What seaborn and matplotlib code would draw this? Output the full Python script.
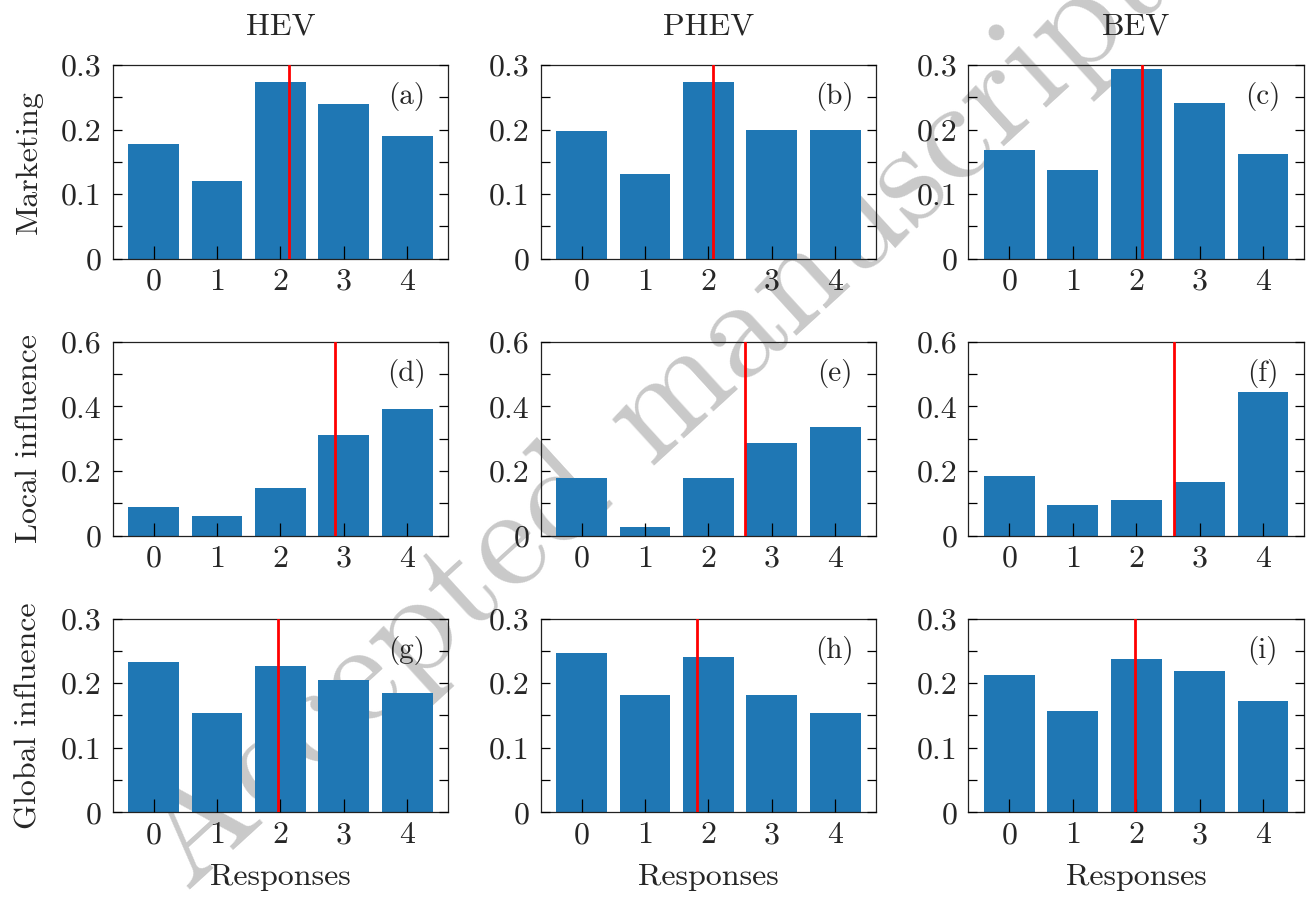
import numpy as np
import pandas as pd
import seaborn as sns
import matplotlib
matplotlib.use('Agg')
import matplotlib.pyplot as plt
from matplotlib.ticker import MultipleLocator, FuncFormatter

# --- data (share of responses per Likert level) ---
responses = [0, 1, 2, 3, 4]
vehicles = ['HEV', 'PHEV', 'BEV']
attitudes = ['Marketing', 'Local influence', 'Global influence']
panel_tags = ['(a)', '(b)', '(c)', '(d)', '(e)', '(f)', '(g)', '(h)', '(i)']

marketing_hev = [0.178, 0.121, 0.274, 0.240, 0.190]
marketing_phev = [0.198, 0.131, 0.274, 0.200, 0.200]
marketing_bev = [0.169, 0.138, 0.294, 0.241, 0.162]

local_hev = [0.089, 0.061, 0.147, 0.311, 0.392]
local_phev = [0.178, 0.027, 0.178, 0.287, 0.336]
local_bev = [0.185, 0.095, 0.110, 0.166, 0.444]

global_hev = [0.232, 0.154, 0.226, 0.205, 0.184]
global_phev = [0.246, 0.181, 0.241, 0.181, 0.153]
global_bev = [0.213, 0.157, 0.238, 0.219, 0.173]

rows = [
    [marketing_hev, marketing_phev, marketing_bev],
    [local_hev, local_phev, local_bev],
    [global_hev, global_phev, global_bev],
]
y_max = [0.3, 0.6, 0.3]
y_major = [0.1, 0.2, 0.1]
y_minor = [0.05, 0.1, 0.05]

sns.set_theme(style='ticks')
plt.rcParams['font.family'] = ['cmr10', 'DejaVu Serif']
plt.rcParams['mathtext.fontset'] = 'cm'
plt.rcParams['axes.formatter.use_mathtext'] = True
plt.rcParams['axes.facecolor'] = 'none'
plt.rcParams['axes.edgecolor'] = 'black'
plt.rcParams['axes.linewidth'] = 0.9

fig, axes = plt.subplots(3, 3, figsize=(13.12, 9), dpi=100)
fig.subplots_adjust(left=0.0859, right=0.9939, top=0.9278, bottom=0.0974,
                    wspace=0.2754, hspace=0.428)

# watermark behind everything
fig.text(0.499, 0.540, 'Accepted manuscript', rotation=42.4, fontsize=104,
         color='#c9c9c9', ha='center', va='center', zorder=-1)

fmt = FuncFormatter(lambda v, pos: '%g' % round(v, 3))

for r in range(3):
    for c in range(3):
        ax = axes[r, c]
        vals = rows[r][c]
        df = pd.DataFrame({'response': responses, 'share': vals})
        sns.barplot(data=df, x='response', y='share', color='#1f77b4',
                    saturation=1, width=0.8, linewidth=0, ax=ax)
        mean = np.dot(responses, vals) / np.sum(vals)
        ax.axvline(mean, color='red', lw=2.0, zorder=3)
        ax.set_axisbelow(False)

        ax.set_xlim(-0.646, 4.646)
        ax.set_ylim(0, y_max[r])
        ax.yaxis.set_major_locator(MultipleLocator(y_major[r]))
        ax.yaxis.set_minor_locator(MultipleLocator(y_minor[r]))
        ax.yaxis.set_major_formatter(fmt)
        ax.tick_params(axis='x', direction='in', length=9.5, width=0.9,
                       top=False, labelsize=23, pad=7, color='black')
        ax.tick_params(axis='y', which='both', direction='in', length=6.5,
                       width=0.9, left=True, right=True, labelsize=23,
                       pad=8, color='black')
        for s in ax.spines.values():
            s.set_visible(True)
            s.set_color('#222222')

        ax.text(0.877, 0.835, panel_tags[3 * r + c], transform=ax.transAxes,
                ha='center', va='center', fontsize=21)

        ax.set_xlabel('Responses' if r == 2 else '', fontsize=23, labelpad=10)
        ax.set_ylabel(attitudes[r] if c == 0 else '', fontsize=23, labelpad=13)
        if r == 0:
            ax.set_title(vehicles[c], fontsize=23, pad=22)

fig.savefig('out.png', dpi=100)
